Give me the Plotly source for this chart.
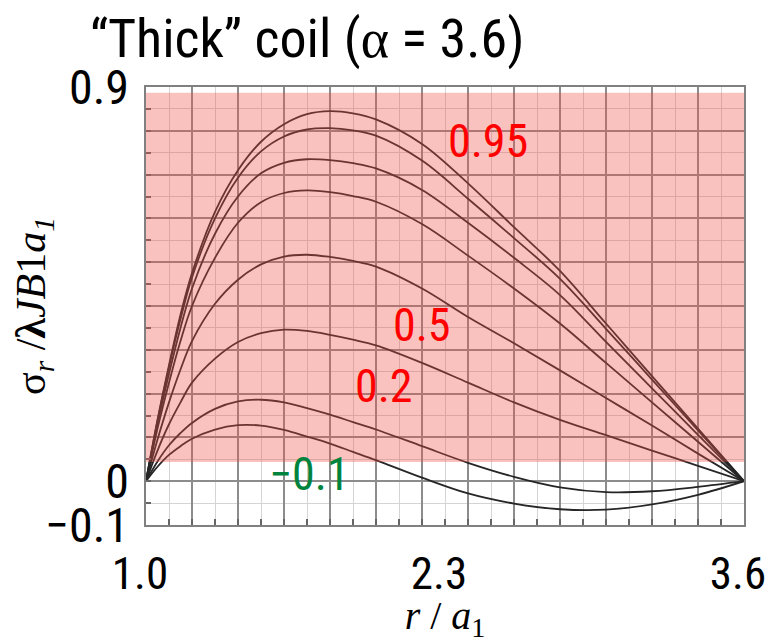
import plotly.graph_objects as go

# ---- data ----
r = [1.0, 1.05, 1.1, 1.15, 1.2, 1.3, 1.4, 1.5, 1.6, 1.7, 1.8, 1.9, 2.0,
     2.2, 2.4, 2.6, 2.8, 3.0, 3.2, 3.4, 3.6]

c_095 = [0, 0.14, 0.265, 0.38, 0.475, 0.615, 0.71, 0.775, 0.815, 0.838, 0.845, 0.840, 0.826,
         0.77, 0.68, 0.58, 0.48, 0.36, 0.24, 0.12, 0]
c_090 = [0, 0.138, 0.26, 0.37, 0.465, 0.60, 0.693, 0.753, 0.787, 0.803, 0.806, 0.801, 0.789,
         0.732, 0.645, 0.555, 0.462, 0.348, 0.232, 0.116, 0]
c_080 = [0, 0.13, 0.245, 0.35, 0.44, 0.565, 0.65, 0.703, 0.727, 0.735, 0.733, 0.726, 0.714,
         0.665, 0.59, 0.51, 0.425, 0.318, 0.212, 0.106, 0]
c_070 = [0, 0.12, 0.225, 0.32, 0.40, 0.51, 0.59, 0.637, 0.658, 0.664, 0.66, 0.651, 0.638,
         0.587, 0.515, 0.44, 0.36, 0.27, 0.18, 0.09, 0]
c_050 = [0, 0.095, 0.18, 0.255, 0.32, 0.405, 0.46, 0.495, 0.513, 0.517, 0.512, 0.503, 0.49,
         0.44, 0.375, 0.315, 0.253, 0.19, 0.127, 0.063, 0]
c_020 = [0, 0.07, 0.13, 0.18, 0.225, 0.28, 0.318, 0.338, 0.346, 0.343, 0.334, 0.323, 0.31,
         0.27, 0.225, 0.18, 0.14, 0.105, 0.07, 0.035, 0]
c_000 = [0, 0.045, 0.082, 0.11, 0.133, 0.165, 0.182, 0.186, 0.18, 0.167, 0.152, 0.135, 0.118,
         0.08, 0.042, 0.01, -0.014, -0.025, -0.023, -0.013, 0]
c_m010 = [0, 0.033, 0.06, 0.08, 0.097, 0.118, 0.128, 0.127, 0.117, 0.102, 0.086, 0.067, 0.048,
          0.008, -0.028, -0.051, -0.064, -0.065, -0.053, -0.031, 0]

curves = [c_095, c_090, c_080, c_070, c_050, c_020, c_000, c_m010]

x_tickvals = [1.0, 2.3, 3.6]
x_ticktext = ["1.0", "2.3", "3.6"]
y_tickvals = [-0.1, 0, 0.9]
y_ticktext = ["\u22120.1", "0", "0.9"]

label_text = ["0.95", "0.5", "0.2", "\u22120.1"]
label_x = [2.485, 2.202, 2.035, 1.709]
label_y = [0.776, 0.356, 0.218, 0.016]
label_color = ["#ff0000", "#ff0000", "#ff0000", "#00843d"]

NARROW = "Liberation Sans Narrow, Arial Narrow, Roboto Condensed, Liberation Sans, Arial"
SERIF = "Liberation Serif, Times New Roman, DejaVu Serif, serif"

fig = go.Figure()
for c in curves:
    fig.add_trace(go.Scatter(x=r, y=c, mode="lines",
                             line=dict(color="#262626", width=1.8, shape="spline", smoothing=1.0),
                             showlegend=False, hoverinfo="skip"))
# dummy trace for label axes
fig.add_trace(go.Scatter(x=[None], y=[None], xaxis="x2", yaxis="y2", showlegend=False))

# pink shaded region (overlay)
fig.add_shape(type="rect", xref="x", yref="y", x0=1.0, x1=3.6, y0=0.044, y1=0.887,
              fillcolor="rgba(240,80,70,0.35)", line=dict(width=0), layer="above")

for t, xx, yy, col in zip(label_text, label_x, label_y, label_color):
    fig.add_annotation(x=xx, y=yy, text=t, showarrow=False,
                       font=dict(family=NARROW, size=46, color=col))

fig.update_layout(
    width=773, height=642,
    margin=dict(l=138, r=37, t=79, b=125),
    paper_bgcolor="white", plot_bgcolor="white",
    title=dict(text="\u201cThick\u201d coil (<span style=\"font-family:Liberation Serif\">\u03b1</span> = 3.6)",
               x=0.387, xref="container", xanchor="center",
               y=0.953, yref="container", yanchor="middle",
               font=dict(family=NARROW, size=54, color="black")),
    xaxis=dict(range=[1.0, 3.6], dtick=0.2, tick0=1.0, showticklabels=False, automargin=False,
               showgrid=True, gridcolor="#8c8c8c", gridwidth=1.5,
               ticks="inside", ticklen=6, tickcolor="#666", tickwidth=2,
               minor=dict(dtick=0.1, showgrid=True, gridcolor="#d4d4d4", gridwidth=1,
                          ticks="inside", ticklen=6, tickcolor="#666", tickwidth=2),
               showline=True, linecolor="#808080", linewidth=2, mirror=True,
               zeroline=False,
               title=dict(text="<i>r</i> / <i>a</i><sub>1</sub>", standoff=75,
                          font=dict(family=SERIF, size=40, color="black"))),
    yaxis=dict(range=[-0.1, 0.9], dtick=0.1, tick0=0, showticklabels=False, automargin=False,
               showgrid=True, gridcolor="#8c8c8c", gridwidth=1.5,
               ticks="inside", ticklen=5, tickcolor="#666", tickwidth=1.5,
               minor=dict(dtick=0.05, showgrid=True, gridcolor="#d4d4d4", gridwidth=1,
                          ticks="inside", ticklen=5, tickcolor="#666", tickwidth=1.5),
               showline=True, linecolor="#808080", linewidth=2, mirror=True,
               zeroline=False),
    xaxis2=dict(overlaying="x", matches="x", anchor="y", side="bottom", automargin=False,
                range=[1.0, 3.6], tickmode="array", tickvals=x_tickvals, ticktext=x_ticktext,
                showgrid=False, zeroline=False, ticks="", ticklabelstandoff=18,
                ticklabeloverflow="allow", ticklabelshift=-6,
                tickfont=dict(family=NARROW, size=45, color="black")),
    yaxis2=dict(overlaying="y", matches="y", anchor="x", side="left", automargin=False,
                range=[-0.1, 0.9], tickmode="array", tickvals=y_tickvals, ticktext=y_ticktext,
                showgrid=False, zeroline=False, ticks="", ticklabelstandoff=16,
                ticklabeloverflow="allow",
                tickfont=dict(family=NARROW, size=48, color="black"),
                title=dict(text="\u03c3<sub><i>r</i></sub> /<b>\u03bb</b><i>JB</i>1<i>a<sub>1</sub></i>",
                           standoff=2,
                           font=dict(family=SERIF, size=42, color="black"))),
)

fig.write_html("out.html")
